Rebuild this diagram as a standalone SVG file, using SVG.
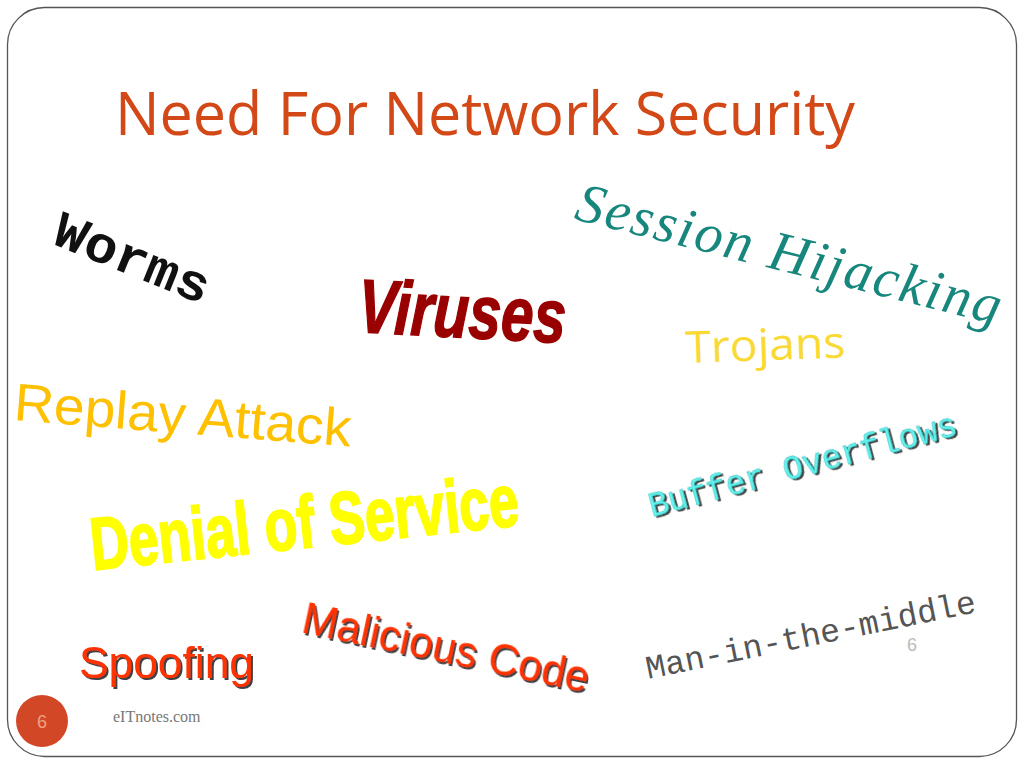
<svg xmlns="http://www.w3.org/2000/svg" width="1024" height="768" viewBox="0 0 1024 768">
<defs>
<filter id="sh" x="-10%" y="-20%" width="130%" height="150%">
<feDropShadow dx="2" dy="2" stdDeviation="0.6" flood-color="#222" flood-opacity="0.85"/>
</filter>
<style>
.title{font-family:"Open Sans","Liberation Sans",sans-serif;font-size:60px;fill:#D34817}
.mono{font-family:"Liberation Mono","DejaVu Sans Mono",monospace}
.sans{font-family:"Liberation Sans","DejaVu Sans",sans-serif}
.serif{font-family:"Liberation Serif","DejaVu Serif",serif}
.comic{font-family:"Open Sans","Liberation Sans",sans-serif}
</style>
</defs>
<rect width="1024" height="768" fill="#fff"/>
<rect id="frame" x="7.5" y="7.5" width="1009" height="749" rx="37" ry="37" fill="none" stroke="#555" stroke-width="1.3"/>
<g id="title"><text class="title" x="115" y="135" textLength="740" lengthAdjust="spacingAndGlyphs">Need For Network Security</text></g>
<g id="worms"><text class="mono" font-weight="bold" font-size="52" fill="#111" transform="translate(50,243) rotate(22)" textLength="164" lengthAdjust="spacingAndGlyphs">Worms</text></g>
<g id="viruses"><text class="sans" font-weight="bold" font-style="italic" font-size="76" fill="#990000" stroke="#990000" stroke-width="1.5" transform="translate(357,332) rotate(3)" textLength="208" lengthAdjust="spacingAndGlyphs">Viruses</text></g>
<g id="session"><text class="serif" font-style="italic" font-size="56" fill="#17877E" transform="translate(573,219) rotate(14)" textLength="436" lengthAdjust="spacing">Session Hijacking</text></g>
<g id="trojans"><text class="comic" font-size="44" fill="#FAD934" transform="translate(686,363) rotate(-2)" textLength="160" lengthAdjust="spacingAndGlyphs">Trojans</text></g>
<g id="replay"><text class="sans" font-size="53" fill="#FFC000" transform="translate(13,420) rotate(4.5)" textLength="338" lengthAdjust="spacingAndGlyphs">Replay Attack</text></g>
<g id="dos"><text class="sans" font-weight="bold" font-size="74" fill="#FFFF00" stroke="#FFFF00" stroke-width="2" transform="translate(93,570) rotate(-6)" textLength="430" lengthAdjust="spacingAndGlyphs">Denial of Service</text></g>
<g id="buffer"><text class="mono" font-size="35" fill="#5EF5F0" stroke="#3aa" stroke-width="0.4" filter="url(#sh)" transform="translate(652,517) rotate(-15)" textLength="318" lengthAdjust="spacingAndGlyphs">Buffer Overflows</text></g>
<g id="malicious"><text class="sans" font-size="44" fill="#FF3300" filter="url(#sh)" transform="translate(300,632) rotate(12)" textLength="292" lengthAdjust="spacingAndGlyphs">Malicious Code</text></g>
<g id="spoofing"><text class="sans" font-size="44" fill="#FF3300" filter="url(#sh)" x="79" y="678" textLength="175" lengthAdjust="spacingAndGlyphs">Spoofing</text></g>
<g id="mitm"><text class="mono" font-size="33" fill="#555" transform="translate(648,679) rotate(-11.5)" textLength="336" lengthAdjust="spacingAndGlyphs">Man-in-the-middle</text></g>
<g id="pagenum"><text class="sans" font-size="18" fill="#BBB" x="907" y="651">6</text></g>
<g id="footer">
<circle cx="42" cy="721" r="26" fill="#D24726"/>
<text class="sans" font-size="18" fill="#F0A080" x="42" y="728" text-anchor="middle">6</text>
<text class="serif" font-size="16" fill="#777" x="113" y="722">eITnotes.com</text>
</g>
</svg>
